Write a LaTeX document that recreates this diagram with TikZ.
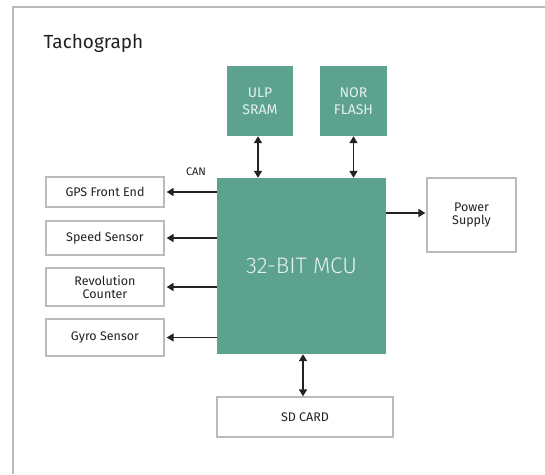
\documentclass[tikz,border=0pt]{standalone}
\usepackage{fontspec}
\setmainfont{Fira Sans}
\newfontfamily\lightfont{Fira Sans Light}
\usetikzlibrary{arrows.meta}
\definecolor{mcugreen}{HTML}{5CA28E}
\definecolor{boxgray}{HTML}{BBBBBB}
\definecolor{ink}{HTML}{222222}
\definecolor{paletext}{HTML}{E6F0EC}
\begin{document}
\begin{tikzpicture}[x=1pt, y=-1pt,
    greenbox/.style={fill=mcugreen, draw=none, text=paletext, align=center, inner sep=0pt, font=\fontsize{14}{17}\selectfont},
    whitebox/.style={draw=boxgray, line width=1.3pt, fill=white, text=ink, align=center, inner sep=0pt, font=\fontsize{12.5}{13}\selectfont},
    link/.style={ink, line width=1.6pt, -{Triangle[length=7pt, width=8pt]}},
    duplex/.style={ink, line width=1.6pt, {Triangle[length=7pt, width=8pt]}-{Triangle[length=7pt, width=8pt]}},
    frame/.style={boxgray, line width=1.5pt}]
        \useasboundingbox (0, 0) rectangle (545, 474);
        \draw[frame] (545, 7) -- (13, 7) -- (13, 474);
        \node[anchor=west, text=ink, font=\fontsize{19}{21}\selectfont] (title) at (40, 43) {Tachograph};
        % memories on top
        \node[greenbox, minimum width=66pt, minimum height=70pt] (sram) at (260, 101) {ULP\\SRAM};
        \node[greenbox, minimum width=67pt, minimum height=70pt] (flash) at (353.5, 101) {NOR\\FLASH};
        \node[greenbox, minimum width=169pt, minimum height=176pt, font=\lightfont\fontsize{22.5}{26}\selectfont] (mcu) at (301.5, 266) {32-BIT MCU};
        % peripherals
        \node[whitebox, minimum width=118pt, minimum height=30pt] (gps) at (105, 192) {GPS Front End};
        \node[whitebox, minimum width=118pt, minimum height=34pt] (speed) at (105, 238) {Speed Sensor};
        \node[whitebox, minimum width=118pt, minimum height=38pt] (rev) at (105, 287) {Revolution\\Counter};
        \node[whitebox, minimum width=118pt, minimum height=37pt] (gyro) at (105, 337.5) {Gyro Sensor};
        \node[whitebox, minimum width=89pt, minimum height=74pt] (power) at (471.5, 215) {Power\\Supply};
        \node[whitebox, minimum width=176pt, minimum height=40pt] (sd) at (305, 417) {SD CARD};
        % connections
        \draw[duplex] ([xshift=-2pt]sram.south) -- ([xshift=-2pt]sram.south |- mcu.north);
        \draw[duplex] (flash.south) -- (flash.south |- mcu.north);
        \draw[duplex] ([xshift=1.5pt]mcu.south) -- ([xshift=1.5pt]mcu.south |- sd.north);
        \foreach \dev in {gps, speed, rev, gyro}
        \draw[link] (mcu.west |- \dev.east) -- ([xshift=2pt]\dev.east);
        \draw[link] ([yshift=2pt]mcu.east |- power.west) -- ([xshift=-1pt, yshift=2pt]power.west);
        \node[text=ink, font=\fontsize{11}{13}\selectfont] (can) at (196, 172) {CAN};
\end{tikzpicture}
\end{document}
